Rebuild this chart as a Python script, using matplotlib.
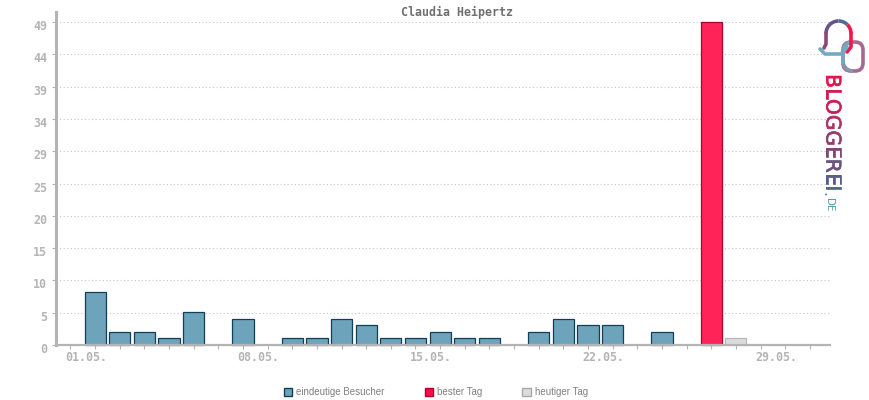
import matplotlib
matplotlib.use('Agg')
import matplotlib.pyplot as plt
import matplotlib.patheffects as pe
from matplotlib.patches import Arc, Patch, FancyBboxPatch
from matplotlib.transforms import ScaledTranslation

days = list(range(1, 31))
visitors = [8, 2, 2, 1, 5, 0, 4, 0, 1, 1, 4, 3, 1, 1, 2, 1, 1, 0, 2, 4, 3, 3, 0, 2, 0, 0, 0, 0, 0, 0]
best_day = [26]
best_value = [49]
today_day = [27]
today_value = [1]
y_ticks = [0, 4.9, 9.8, 14.7, 19.6, 24.5, 29.4, 34.3, 39.2, 44.1, 49]
y_labels = ['0', '5', '10', '15', '20', '25', '29', '34', '39', '44', '49']
x_ticks = list(range(0, 31))
x_labels = {1: '01.05.', 8: '08.05.', 15: '15.05.', 22: '22.05.', 29: '29.05.'}
title = 'Claudia Heipertz'
legend_names = ['eindeutige Besucher', 'bester Tag', 'heutiger Tag']
logo_letters = 'BLOGGEREI.DE'
logo_colors = ['#e0164f', '#d21c55', '#c4245c', '#ad3565', '#94406e', '#7e4a75',
               '#6a5380', '#5a5d88', '#55698c', '#5f87a3', '#5f95b0', '#5f9ab5']
logo_x = [832, 832, 832, 832, 832, 832, 832, 832, 832, 827, 829.5, 829.5]
logo_y = [81, 93.4, 106.9, 122.6, 138.2, 152.3, 165.7, 179, 188.4, 194, 201.5, 208]
logo_size = [14.5, 14.5, 14.5, 14.5, 14.5, 14.5, 14.5, 14.5, 14.5, 11, 7.5, 7.5]

GREY = '#b4b4b4'
W, H = 870, 400

fig = plt.figure(figsize=(8.7, 4), dpi=100)
ax = fig.add_axes([56/W, 1-345/H, (830-56)/W, (345-12)/H])
ax.set_xlim(-0.588, 30.82)
ax.set_ylim(0, 50.53)
ax.set_axisbelow(True)

ax.yaxis.grid(True, color='#c4c4c4', linewidth=0.8, linestyle=(0, (1, 2.2)))
bar_w = 0.86
shown = [v > 0 for v in visitors]
ax.bar([d for d, s in zip(days, shown) if s], [v for v in visitors if v > 0], width=bar_w,
       color='#6ea3bc', edgecolor='#123f55', linewidth=0.9, clip_on=False)
ax.bar(best_day, best_value, width=bar_w, color='#ff2358', edgecolor='#b0002f', linewidth=0.9, clip_on=False)
ax.bar(today_day, today_value, width=bar_w, color='#dcdcdc', edgecolor='#b8b8b8', linewidth=0.9, clip_on=False)

for s in ['top', 'right']:
    ax.spines[s].set_visible(False)
ax.spines['left'].set_color(GREY)
ax.spines['left'].set_linewidth(2.2)
ax.spines['bottom'].set_color(GREY)
ax.spines['bottom'].set_linewidth(1.6)

ax.set_yticks(y_ticks)
ax.set_yticklabels(y_labels, family='DejaVu Sans Mono', fontsize=8.4, color=GREY, weight='bold')
ax.set_xticks(x_ticks)
ax.set_xticklabels([x_labels.get(t, '') for t in x_ticks], family='DejaVu Sans Mono',
                   fontsize=8.4, color=GREY, weight='bold')
ax.tick_params(axis='y', length=3, width=0.8, color=GREY, pad=3.5)
ax.tick_params(axis='x', length=3, width=0.8, color=GREY, pad=1.5, direction='out')

for lab in ax.get_yticklabels():
    lab.set_transform(lab.get_transform() + ScaledTranslation(0, -3/100, fig.dpi_scale_trans))
for lab in ax.get_xticklabels():
    lab.set_transform(lab.get_transform() + ScaledTranslation(-9/100, 0, fig.dpi_scale_trans))

fig.text(457.5/W, 1-12/H, title, family='DejaVu Sans Mono', fontsize=8.4, weight='bold',
         color='#707070', ha='center', va='center')

handles = [Patch(facecolor='#6ea3bc', edgecolor='#123f55', linewidth=1.0),
           Patch(facecolor='#ff0a46', edgecolor='#b0002f', linewidth=1.0),
           Patch(facecolor='#dcdcdc', edgecolor='#a8a8a8', linewidth=1.0)]
fig.legend(handles, legend_names, loc='center', bbox_to_anchor=(436/W, 1-392/H), ncol=3, frameon=False,
           prop={'family': 'Liberation Sans', 'size': 7}, labelcolor='#808080', handlelength=0.85,
           handleheight=0.85, handletextpad=0.45, columnspacing=4.1, borderpad=0, borderaxespad=0)

# logo, in pixel coordinates of the figure
logo = fig.add_axes([0, 0, 1, 1], facecolor='none')
logo.set_xlim(0, W)
logo.set_ylim(H, 0)
logo.axis('off')
lw = 2.6
logo.add_patch(FancyBboxPatch((848, 47), 10, 19, boxstyle='round,pad=5,rounding_size=8', fill=False,
                              edgecolor='#a8688f', linewidth=lw))
logo.add_patch(Arc((853, 52), 20, 20, theta1=180, theta2=270, color='#74aac0', lw=lw))
logo.plot([843, 843], [52, 62], color='#74aac0', lw=lw)
logo.add_patch(Arc((853, 61), 20, 20, theta1=90, theta2=180, color='#8297b0', lw=lw))
logo.plot([826, 826, 824], [33, 44, 48], color='#8a4a78', lw=lw, solid_capstyle='round')
logo.add_patch(Arc((838.5, 33.5), 25, 25, theta1=180, theta2=270, color='#66558a', lw=lw))
logo.add_patch(Arc((838.5, 33.5), 25, 25, theta1=270, theta2=315, color='#4e6c90', lw=lw))
logo.add_patch(Arc((838.5, 33.5), 25, 25, theta1=315, theta2=360, color='#f0184f', lw=lw))
logo.plot([851, 851, 847], [33, 47, 52], color='#f0184f', lw=lw, solid_capstyle='round')
logo.plot([820, 825, 841, 844, 847], [49, 54, 54, 51, 47], color='#74aac0', lw=lw, solid_capstyle='round')
for ch, col, x, y, sz in zip(logo_letters, logo_colors, logo_x, logo_y, logo_size):
    t = logo.text(x, y, ch, rotation=-90, ha='center', va='center', color=col, fontsize=sz,
                  family='DejaVu Sans')
    if sz > 12:
        t.set_path_effects([pe.withStroke(linewidth=0.5, foreground=col)])

plt.savefig('out.png', dpi=100)
